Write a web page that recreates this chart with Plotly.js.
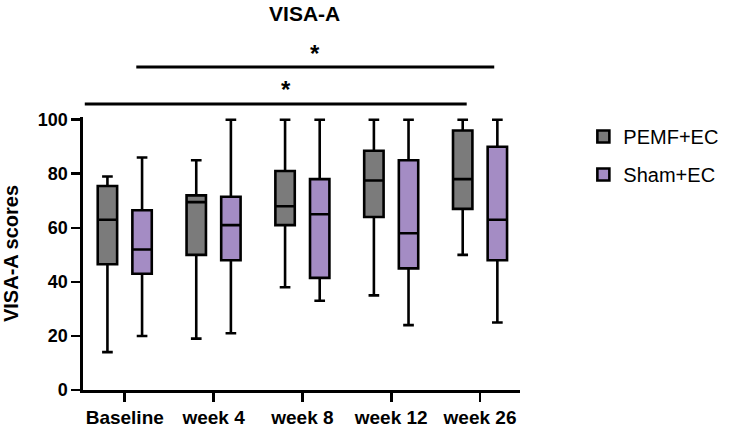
<!DOCTYPE html>
<html>
<head>
<meta charset="utf-8">
<script src="https://cdn.plot.ly/plotly-3.0.1.min.js"></script>
<style>html,body{margin:0;padding:0;background:#fff}#chart{width:736px;height:430px}</style>
</head>
<body>
<div id="chart"></div>
<script>
const categories = ["Baseline", "week 4", "week 8", "week 12", "week 26"];
const seriesNames = ["PEMF+EC", "Sham+EC"];
// min, q1, median, q3, max
const pemfMin = [14, 19, 38, 35, 50];
const pemfQ1  = [46.5, 50, 61, 64, 67];
const pemfMed = [63, 69.5, 68, 77.5, 78];
const pemfQ3  = [75.5, 72, 81, 88.5, 96];
const pemfMax = [79, 85, 100, 100, 100];
const shamMin = [20, 21, 33, 24, 25];
const shamQ1  = [43, 48, 41.5, 45, 48];
const shamMed = [52, 61, 65, 58, 63];
const shamQ3  = [66.5, 71.5, 78, 85, 90];
const shamMax = [86, 100, 100, 100, 100];
const yTicks = [0, 20, 40, 60, 80, 100];
const sigLabels = ["*", "*"];

const font = "Liberation Sans, Arial, sans-serif";
const lineW = 2.6;

function boxTrace(name, color, mn, q1, md, q3, mx, grp) {
  return {
    type: "box", name: name, x: categories,
    lowerfence: mn, q1: q1, median: md, q3: q3, upperfence: mx,
    fillcolor: color, line: {color: "#000", width: lineW},
    whiskerwidth: 0.55, boxpoints: false, hoverinfo: "skip",
    legendgroup: grp
  };
}

const data = [
  boxTrace(seriesNames[0], "#7b7b7b", pemfMin, pemfQ1, pemfMed, pemfQ3, pemfMax, "a"),
  boxTrace(seriesNames[1], "#a48cc4", shamMin, shamQ1, shamMed, shamQ3, shamMax, "b")
];

const layout = {
  width: 736, height: 430,
  margin: {l: 83, r: 214, t: 117, b: 40},
  paper_bgcolor: "#fff", plot_bgcolor: "#fff",
  boxmode: "group", boxgap: 0.22, boxgroupgap: 0.44,
  title: {text: "<b>VISA-A</b>", x: 0.414, xanchor: "center", y: 0.968, yanchor: "middle",
          font: {family: font, size: 21, color: "#000"}},
  showlegend: true,
  legend: {x: 1.145, xanchor: "left", y: 1.0, yanchor: "top",
           font: {family: font, size: 20, color: "#000"},
           traceorder: "grouped", tracegroupgap: 9, bgcolor: "rgba(0,0,0,0)"},
  xaxis: {
    type: "category", range: [-0.47, 4.45],
    showline: true, linecolor: "#000", linewidth: lineW,
    ticks: "outside", ticklen: 9, tickwidth: lineW, tickcolor: "#000",
    tickfont: {family: font, size: 19, color: "#000", weight: "bold"},
    showgrid: false, zeroline: false, fixedrange: true, automargin: false
  },
  yaxis: {
    range: [0, 101], tickvals: yTicks, ticktext: yTicks.map(String),
    showline: true, linecolor: "#000", linewidth: lineW,
    ticks: "outside", ticklen: 9, tickwidth: lineW, tickcolor: "#000",
    tickfont: {family: font, size: 18, color: "#000", weight: "bold"},
    showgrid: false, zeroline: false, fixedrange: true, automargin: false,
    title: {text: "<b>VISA-A scores</b>", standoff: 14, font: {family: font, size: 20, color: "#000"}}
  },
  shapes: [
    {type: "line", xref: "x", yref: "paper", x0: -0.45, x1: 3.85, y0: 1.048, y1: 1.048,
     line: {color: "#000", width: 3}},
    {type: "line", xref: "x", yref: "paper", x0: 0.13, x1: 4.16, y0: 1.183, y1: 1.183,
     line: {color: "#000", width: 3}}
  ],
  annotations: [
    {xref: "x", yref: "paper", x: 1.81, y: 1.1, text: "<b>" + sigLabels[0] + "</b>", showarrow: false,
     font: {family: font, size: 24, color: "#000"}, yanchor: "middle"},
    {xref: "x", yref: "paper", x: 2.14, y: 1.232, text: "<b>" + sigLabels[1] + "</b>", showarrow: false,
     font: {family: font, size: 24, color: "#000"}, yanchor: "middle"}
  ]
};

Plotly.newPlot("chart", data, layout, {staticPlot: true, displayModeBar: false});
</script>
</body>
</html>
